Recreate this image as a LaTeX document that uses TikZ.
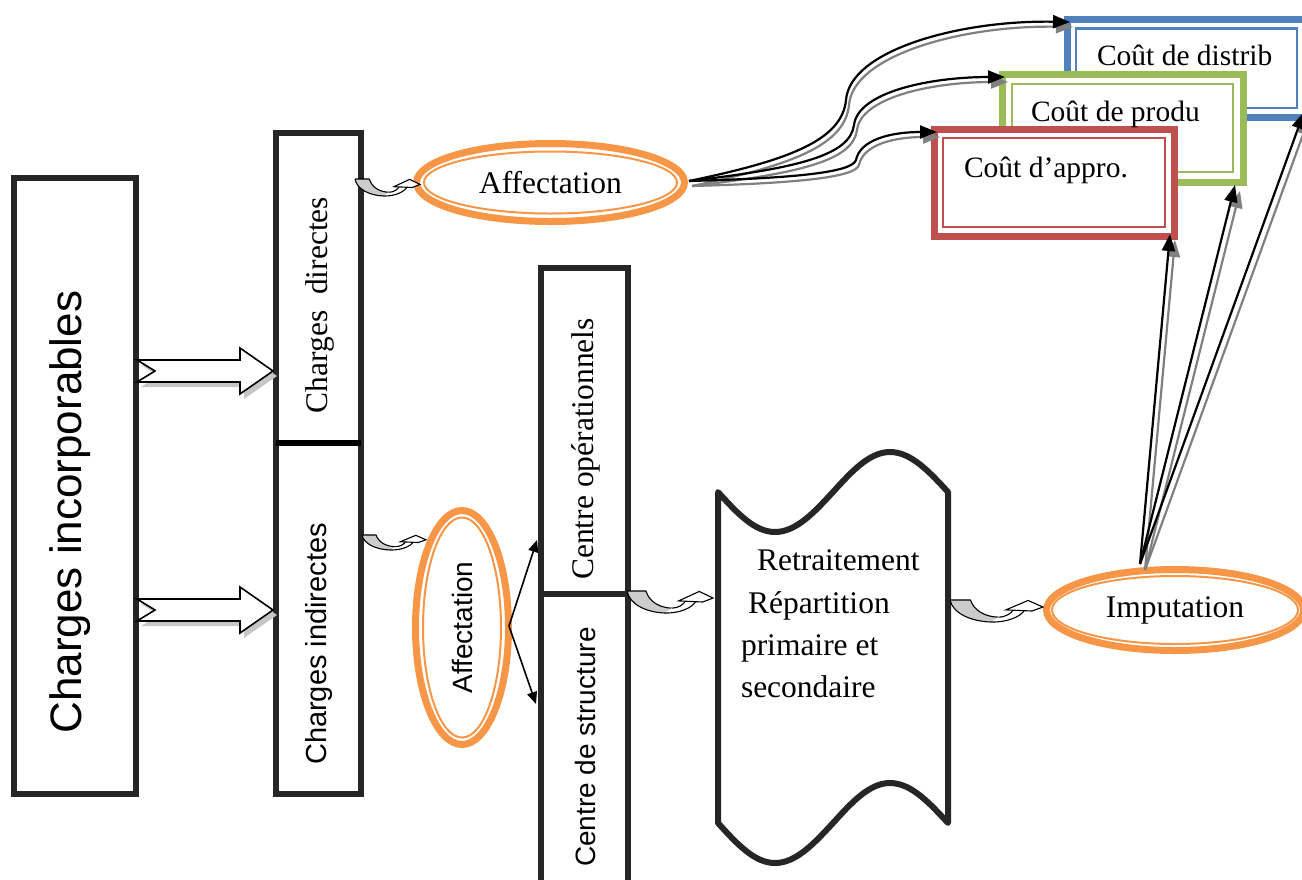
\documentclass[tikz,border=0pt]{standalone}
\usepackage{fontspec}
\setmainfont{Liberation Serif}
\newfontfamily\arialfont{Liberation Sans}
\usetikzlibrary{arrows.meta,shapes.geometric,calc}

\definecolor{boxgray}{HTML}{262626}
\definecolor{ofOrange}{HTML}{F79646}
\definecolor{ofBlue}{HTML}{4F81BD}
\definecolor{ofGreen}{HTML}{9BBB59}
\definecolor{ofRed}{HTML}{C0504D}

\newcommand{\serifsz}{\fontsize{31.5}{36}\selectfont}
\newcommand{\costsz}{\fontsize{29.5}{34}\selectfont}
\newcommand{\sanssz}{\arialfont\fontsize{29}{34}\selectfont}

% hollow block arrow with a notched tail: #1 tail point, #2 tip, #3 path options
\newcommand{\fatarrow}[3]{%
  \path[#3] ($(#1)+(0,-11)$) -- ($(#2)+(-33,-11)$) -- ($(#2)+(-33,-23)$) -- (#2)
    -- ($(#2)+(-33,23)$) -- ($(#2)+(-33,11)$) -- ($(#1)+(0,11)$) -- ($(#1)+(18,0)$) -- cycle;}

\tikzset{
  curl/.pic={
    % back side of the curled ribbon
    \fill[gray!40] (0,0) -- (0.22,0) .. controls (0.26,0.5) and (0.38,0.76) .. (0.52,0.78)
      -- (0.44,1) .. controls (0.22,0.97) and (0.03,0.6) .. (0,0) -- cycle;
    \draw[line width=1.1pt, line join=round] (0,0) -- (0.22,0) .. controls (0.26,0.5) and (0.38,0.76) .. (0.52,0.78);
    % front side rising towards the head
    \fill[white] (0.44,1) .. controls (0.62,1.02) and (0.76,0.75) .. (0.8,0.47)
      -- (0.68,0.45) .. controls (0.66,0.6) and (0.6,0.78) .. (0.52,0.78) -- cycle;
    \draw[line width=1.1pt] (0,0) .. controls (0.03,0.6) and (0.22,0.97) .. (0.44,1)
      .. controls (0.62,1.02) and (0.76,0.75) .. (0.8,0.47);
    \draw[line width=1.1pt] (0.52,0.78) .. controls (0.6,0.78) and (0.66,0.6) .. (0.68,0.45);
    \filldraw[fill=white, line width=1.1pt, line join=miter]
      (0.6,0.45) -- (0.84,0.02) -- (1,0.32) -- (0.88,0.5) -- cycle;
  }
}

\begin{document}
\begin{tikzpicture}[x=1pt,y=-1pt,
  panel/.style={draw=boxgray, line width=6pt, fill=white, inner sep=0pt, outer sep=0pt},
  cost/.style={line width=7pt, fill=white, inner sep=0pt, outer sep=0pt},
  ring/.style={ellipse, draw=ofOrange, line width=7pt, fill=white, inner sep=0pt, outer sep=0pt},
  ringin/.style={draw=ofOrange, line width=2pt},
  headstyle/.style={-{Triangle[length=17pt,width=13pt]}},
  blackline/.style={headstyle, draw=black, line width=2.2pt},
  grayline/.style={headstyle, draw=gray, line width=2.2pt, transform canvas={shift={(#1)}}},
  thinarrow/.style={draw=black, line width=1.6pt, -{Triangle[length=12pt,width=10pt]}},
  txtline/.style={inner sep=0pt, outer sep=0pt, anchor=base west},
]
\useasboundingbox (0,0) rectangle (1302,879);

% ---- columns of boxes ----
\node[panel, minimum width=122, minimum height=616] (inc) at (75,486) {};
\node[panel, minimum width=85, minimum height=310] (dir) at (318.5,288) {};
\node[panel, minimum width=85, minimum height=351] (ind) at (318.5,618.5) {};
\draw[black, line width=6pt] (dir.south west) -- (dir.south east);
\node[panel, minimum width=87, minimum height=326] (ope) at (584.5,431) {};
\node[panel, minimum width=87, minimum height=296] (str) at (584.5,742) {};

\node[rotate=90, font=\arialfont\fontsize{44}{50}\selectfont] (tinc) at (70,512) {Charges incorporables};
\node[rotate=90, font=\serifsz] (tdir) at (320,305) {Charges\ \ directes};
\node[rotate=90, font=\sanssz] (tind) at (319,644) {Charges indirectes};
\node[rotate=90, font=\serifsz] (tope) at (586,449) {Centre opérationnels};
\node[rotate=90, font=\arialfont\fontsize{28}{32}\selectfont] (tstr) at (585,747) {Centre de structure};

% ---- block arrows from the incorporable charges ----
\coordinate (fa1) at (137,371);  \coordinate (fb1) at (273,371);
\coordinate (fa2) at (137,610);  \coordinate (fb2) at (273,610);
\fatarrow{fa1}{fb1}{fill=gray!45, transform canvas={shift={(4pt,-5pt)}}}
\fatarrow{fa2}{fb2}{fill=gray!45, transform canvas={shift={(4pt,-5pt)}}}
\fatarrow{fa1}{fb1}{fill=white, draw=black, line width=1.6pt, line join=miter}
\fatarrow{fa2}{fb2}{fill=white, draw=black, line width=1.6pt, line join=miter}

% ---- allocation ellipses ----
\node[ring, minimum width=268, minimum height=78, font=\serifsz] (aff) at (550.5,182.5) {Affectation};
\draw[ringin] (aff.center) ellipse [x radius=126.5, y radius=31];
\node[ring, rotate=90, minimum width=234, minimum height=93, font=\arialfont\fontsize{28}{32}\selectfont] (vaff) at (462,627.5) {Affectation};
\draw[ringin] (vaff.center) ellipse [x radius=39, y radius=110];
\node[ring, minimum width=257, minimum height=81, font=\serifsz] (imp) at (1175,610) {Imputation};
\draw[ringin] (imp.center) ellipse [x radius=123, y radius=34];

% ---- punched-tape processing block ----
\draw[panel, line join=round] (718,492) sin (775,532) cos (833,492) sin (890,452) cos (948,492)
  -- (948,823) sin (890,783) cos (833,823) sin (775,863) cos (718,823) -- cycle;
\node[txtline, font=\serifsz] (w1) at (757,570) {Retraitement};
\node[txtline, font=\serifsz] (w2) at (748,613) {Répartition};
\node[txtline, font=\serifsz] (w3) at (741,655) {primaire et};
\node[txtline, font=\serifsz] (w4) at (741,697) {secondaire};

% ---- curled arrows ----
\pic[xscale=65, yscale=17] at (355,179) {curl};
\pic[xscale=64, yscale=15] at (362,535) {curl};
\pic[xscale=86, yscale=22] at (627,591) {curl};
\pic[xscale=93, yscale=22] at (950,600) {curl};

% ---- split towards the two kinds of centres ----
\coordinate (vsrc) at (509,626);
\draw[thinarrow] (vsrc) -- (537,540);
\draw[thinarrow] (vsrc) -- (536,704);

% ---- cost boxes ----
\node[cost, draw=ofBlue, minimum width=239, minimum height=98] (blue) at (1186.5,68) {};
\draw[ofBlue, line width=2.5pt] ([shift={(9,9.5)}]blue.north west) rectangle ([shift={(-9,-9)}]blue.south east);
\node[cost, draw=ofGreen, minimum width=241, minimum height=108] (green) at (1122.5,128) {};
\draw[ofGreen, line width=2.5pt] ([shift={(10,10)}]green.north west) rectangle ([shift={(-10,-10)}]green.south east);
\node[cost, draw=ofRed, minimum width=240, minimum height=107] (red) at (1054,182.5) {};
\draw[ofRed, line width=2.5pt] ([shift={(9,9)}]red.north west) rectangle ([shift={(-9,-9)}]red.south east);

\node[txtline, font=\costsz] (tblue) at (1097,65) {Coût de distrib};
\node[txtline, font=\costsz] (tgreen) at (1031,121) {Coût de produ};
\node[txtline, font=\costsz] (tred) at (964,177) {Coût d’appro.};

% ---- allocation fan towards the cost boxes ----
\coordinate (fsrc) at (689,181);
\coordinate (eblue) at ([shift={(3,3)}]blue.north west);
\coordinate (egreen) at ([shift={(3,3)}]green.north west);
\coordinate (ered) at ([shift={(3,3)}]red.north west);
\draw[grayline={3pt,-5pt}] (fsrc) .. controls (790,160) and (842,140) .. (846,100) .. controls (850,50) and (960,20) .. (eblue);
\draw[grayline={3pt,-5pt}] (fsrc) .. controls (800,168) and (850,155) .. (854,125) .. controls (858,92) and (930,77) .. (egreen);
\draw[grayline={3pt,-5pt}] (fsrc) .. controls (800,178) and (852,172) .. (856,160) .. controls (860,140) and (890,132) .. (ered);
\draw[blackline] (fsrc) .. controls (790,160) and (842,140) .. (846,100) .. controls (850,50) and (960,20) .. (eblue);
\draw[blackline] (fsrc) .. controls (800,168) and (850,155) .. (854,125) .. controls (858,92) and (930,77) .. (egreen);
\draw[blackline] (fsrc) .. controls (800,178) and (852,172) .. (856,160) .. controls (860,140) and (890,132) .. (ered);

% ---- imputation towards the cost boxes ----
\coordinate (isrc) at (1140,564);
\coordinate (ired) at ([shift={(-4,-2)}]red.south east);
\coordinate (igreen) at ([shift={(-8,3)}]green.south east);
\coordinate (iblue) at (1304,112);
\draw[grayline={5pt,-6pt}] (isrc) -- (ired);
\draw[grayline={5pt,-6pt}] (isrc) -- (igreen);
\draw[grayline={5pt,-6pt}] (isrc) -- (iblue);
\draw[blackline] (isrc) -- (ired);
\draw[blackline] (isrc) -- (igreen);
\draw[blackline] (isrc) -- (iblue);
\end{tikzpicture}
\end{document}
